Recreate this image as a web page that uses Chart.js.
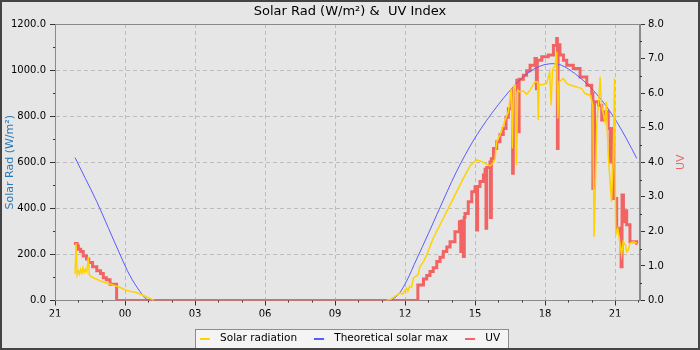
<!DOCTYPE html>
<html>
<head>
<meta charset="utf-8">
<script src="https://cdn.jsdelivr.net/npm/chart.js@4/dist/chart.umd.min.js"></script>
<style>
  html, body { margin: 0; padding: 0; background: #e6e6e6; }
</style>
</head>
<body>
<canvas id="solarChart" width="700" height="350"></canvas>
<script>
// x values are hours counted from 21:00 on the first evening
const xTickLabels = ['21', '00', '03', '06', '09', '12', '15', '18', '21'];
const radTickLabels = ['0.0', '200.0', '400.0', '600.0', '800.0', '1000.0', '1200.0'];
const uvTickLabels = ['0.0', '1.0', '2.0', '3.0', '4.0', '5.0', '6.0', '7.0', '8.0'];

const solarTimes = [0.86, 0.9, 0.95, 1.0, 1.05, 1.1, 1.15, 1.2, 1.25, 1.3, 1.36, 1.43, 1.47, 1.55, 1.7, 1.93, 2.15, 2.4, 2.65, 2.85, 3.0, 3.2, 3.45, 3.64, 3.8, 3.95, 4.1, 4.21, 4.25,
  9,
  14.2, 14.4, 14.6, 14.79, 14.9, 15.0, 15.07, 15.12, 15.2, 15.28, 15.36, 15.45, 15.55, 15.64, 15.8, 15.93, 16.21, 16.64, 17.07, 17.5, 17.79, 18.07, 18.25, 18.43, 18.64, 18.8, 18.86,
  18.93, 19.07, 19.21, 19.43, 19.55, 19.6, 19.65, 19.72, 19.78, 19.83, 19.93, 20.07, 20.21, 20.36, 20.43, 20.57, 20.68, 20.71, 20.75, 20.86, 21.07, 21.2, 21.26, 21.32, 21.43,
  21.5, 21.55, 21.6, 21.79, 21.93, 22.07, 22.36, 22.57, 22.71, 22.93, 23.05, 23.1, 23.15, 23.22, 23.31, 23.36, 23.42, 23.57, 23.63, 23.7, 23.78, 23.85, 23.92, 23.98, 24.03,
  24.12, 24.2, 24.28, 24.35, 24.45, 24.5, 24.57, 24.64, 24.79, 24.93];
const solarValues = [115, 248, 112, 128, 115, 135, 118, 142, 122, 136, 125, 190, 112, 104, 96, 86, 78, 70, 62, 54, 46, 40, 36, 28, 22, 14, 8, 2, 0,
  null,
  0, 6, 20, 32, 28, 45, 53, 40, 62, 58, 97, 105, 110, 147, 170, 198, 270, 357, 443, 530, 585, 610, 605, 595, 584, 600, 615,
  689, 718, 761, 819, 920, 660, 930, 935, 588, 913, 905, 910, 895, 913, 925, 949, 949, 783, 940, 935, 942, 992, 848, 1000, 1021,
  1079, 790, 949, 963, 942, 935, 927, 920, 898, 891, 848, 277, 458, 776, 877, 971, 848, 776, 862, 646, 530, 429, 602, 963, 285,
  313, 256, 198, 256, 240, 212, 220, 248, 256, 248];

const maxTimes = [0.86, 1.3, 1.79, 2.3, 2.79, 3.2, 3.64, 3.85, 4.0,
  9,
  14.25, 14.5, 14.75, 15.07, 15.5, 16.0, 16.36, 16.75, 17.0, 17.4, 17.79, 18.1, 18.5, 19.0, 19.5, 20.0, 20.5, 21.0, 21.4, 21.7, 22.0, 22.5, 22.93, 23.5, 24.07, 24.5, 24.93];
const maxValues = [620, 530, 429, 312, 199, 110, 39, 12, 0,
  null,
  0, 8, 30, 85, 180, 290, 372, 460, 516, 598, 670, 722, 782, 850, 912, 965, 1003, 1024, 1028, 1021, 1005, 967, 927, 860, 776, 700, 617];

const uvTimes = [0.81, 0.95, 1.0, 1.1, 1.21, 1.35, 1.45, 1.61, 1.79, 1.95, 2.07, 2.2, 2.36, 2.64,
  15.55, 15.79, 15.93, 16.07, 16.21, 16.36, 16.5, 16.64, 16.79, 16.93, 17.14, 17.33, 17.39, 17.42, 17.5, 17.54, 17.57, 17.71, 17.86, 18.0, 18.07, 18.11, 18.21, 18.36,
  18.43, 18.47, 18.5, 18.64, 18.66, 18.7, 18.79, 18.93, 19.07, 19.21, 19.33, 19.43, 19.57, 19.61, 19.64, 19.79, 19.84, 19.89, 20.07, 20.21, 20.36, 20.57, 20.63, 20.67,
  20.86, 21.14, 21.36, 21.5, 21.53, 21.56, 21.64, 21.79, 21.93, 22.21, 22.5, 22.79, 23.0, 23.05, 23.12, 23.29, 23.43, 23.57, 23.71, 23.79, 23.86, 23.93, 24.07, 24.21,
  24.26, 24.3, 24.36, 24.43, 24.5, 24.64, 24.79, 24.93, 24.96];
const uvValues = [1.65, 1.58, 1.48, 1.42, 1.29, 1.2, 1.1, 0.98, 0.86, 0.78, 0.66, 0.6, 0.47, 0,
  0.45, 0.62, 0.72, 0.84, 0.95, 1.13, 1.25, 1.42, 1.55, 1.7, 1.99, 2.28, 1.42, 2.3, 1.27, 2.4, 2.52, 2.86, 3.15, 3.29, 2.04, 3.3, 3.44, 3.63,
  3.8, 2.09, 3.85, 4.01, 2.4, 4.1, 4.4, 4.59, 4.8, 4.98, 5.3, 5.55, 6.04, 3.68, 6.1, 6.37, 4.88, 6.4, 6.52, 6.65, 6.81, 7.0, 6.13, 6.95,
  7.05, 7.1, 7.38, 7.58, 4.4, 7.4, 7.1, 6.95, 6.81, 6.71, 6.47, 6.23, 5.99, 3.24, 5.75, 5.65, 5.22, 5.46, 4.98, 4.01, 4.98, 2.95, 2.09, 1.9,
  0.98, 3.05, 2.28, 2.6, 2.19, 1.7, 1.7, 1.65, 1.65];

const FONT = "'DejaVu Sans', sans-serif";
const YELLOW = '#ffd200';
const BLUE = '#5a5aff';
const RED = '#f26464';
const GRID = '#bcbcbc';
const AXIS = '#8a8a8a';

function toPoints(times, values) {
  return times.map((t, i) => ({x: t, y: values[i]}));
}

// short line on the left of a 15px cell, used as the legend marker
function legendMark(color) {
  const c = document.createElement('canvas');
  c.width = 15;
  c.height = 2;
  const g = c.getContext('2d');
  g.fillStyle = color;
  g.fillRect(0, 0, 10, 2);
  return c;
}

const framePlugin = {
  id: 'frame',
  beforeDraw(chart) {
    const ctx = chart.ctx;
    ctx.save();
    ctx.fillStyle = '#e6e6e6';
    ctx.fillRect(0, 0, chart.width, chart.height);
    const boxes = chart.legend.legendHitBoxes;
    if (boxes && boxes.length) {
      const l = Math.round(Math.min(...boxes.map(b => b.left)) - 5);
      const r = Math.round(Math.max(...boxes.map(b => b.left + b.width)) + 8);
      const cy = Math.round(boxes[0].top + boxes[0].height / 2);
      ctx.fillStyle = '#f4f4f4';
      ctx.fillRect(l, cy - 10, r - l, 20);
      ctx.strokeStyle = '#8c8c8c';
      ctx.lineWidth = 1;
      ctx.strokeRect(l + 0.5, cy - 10 + 0.5, r - l, 20);
    }
    ctx.restore();
  },
  beforeDatasetsDraw(chart) {
    const {ctx, chartArea: a, scales} = chart;
    ctx.save();
    ctx.strokeStyle = AXIS;
    ctx.lineWidth = 1;
    ctx.strokeRect(Math.round(a.left) + 0.5, Math.round(a.top) + 0.5, Math.round(a.right - a.left) - 1, Math.round(a.bottom - a.top) - 1);
    // minor tick marks
    ctx.strokeStyle = '#333';
    ctx.beginPath();
    for (let h = 1; h <= 25; h++) {
      if (h % 3 === 0) continue;
      const px = Math.round(scales.x.getPixelForValue(h)) + 0.5;
      ctx.moveTo(px, a.bottom);
      ctx.lineTo(px, a.bottom + 2);
    }
    for (let v = 100; v < 1200; v += 200) {
      const py = Math.round(scales.yRad.getPixelForValue(v)) + 0.5;
      ctx.moveTo(a.left - 2, py);
      ctx.lineTo(a.left, py);
    }
    for (let v = 0.5; v < 8; v += 1) {
      const py = Math.round(scales.yUV.getPixelForValue(v)) + 0.5;
      ctx.moveTo(a.right, py);
      ctx.lineTo(a.right + 2, py);
    }
    ctx.stroke();
    ctx.restore();
  },
  afterDraw(chart) {
    const {ctx, chartArea: a} = chart;
    ctx.save();
    ctx.translate(681, (a.top + a.bottom) / 2);
    ctx.rotate(-Math.PI / 2);
    ctx.fillStyle = RED;
    ctx.font = '11px ' + FONT;
    ctx.textAlign = 'center';
    ctx.textBaseline = 'middle';
    ctx.fillText('UV', 0, 0);
    ctx.restore();
    ctx.save();
    ctx.strokeStyle = '#444';
    ctx.lineWidth = 2;
    ctx.strokeRect(1, 1, chart.width - 2, chart.height - 2);
    ctx.restore();
  }
};

new Chart(document.getElementById('solarChart'), {
  type: 'line',
  data: {
    datasets: [
      {
        label: 'Solar radiation',
        data: toPoints(solarTimes, solarValues),
        borderColor: YELLOW,
        backgroundColor: YELLOW,
        borderWidth: 1.5,
        pointRadius: 0,
        pointStyle: legendMark(YELLOW),
        yAxisID: 'yRad'
      },
      {
        label: 'Theoretical solar max',
        data: toPoints(maxTimes, maxValues),
        borderColor: BLUE,
        backgroundColor: BLUE,
        borderWidth: 1,
        pointRadius: 0,
        cubicInterpolationMode: 'monotone',
        pointStyle: legendMark(BLUE),
        yAxisID: 'yRad'
      },
      {
        label: 'UV',
        data: toPoints(uvTimes, uvValues),
        borderColor: RED,
        backgroundColor: RED,
        borderWidth: 3,
        pointRadius: 0,
        stepped: true,
        pointStyle: legendMark(RED),
        yAxisID: 'yUV'
      }
    ]
  },
  options: {
    responsive: false,
    animation: false,
    devicePixelRatio: 1,
    layout: {padding: {left: 2, right: 2, top: 2, bottom: -4}},
    plugins: {
      title: {
        display: true,
        text: 'Solar Rad (W/m²) &  UV Index',
        color: '#000',
        font: {family: FONT, size: 13, weight: 'normal'},
        padding: {top: 2, bottom: 4.4}
      },
      legend: {
        position: 'bottom',
        labels: {
          usePointStyle: true,
          pointStyleWidth: 15,
          padding: 17,
          color: '#000',
          font: {family: FONT, size: 10.5}
        }
      },
      tooltip: {enabled: false}
    },
    scales: {
      x: {
        type: 'linear',
        min: 0,
        max: 25.07,
        afterFit: s => { s.height = 16; },
        ticks: {
          stepSize: 3,
          includeBounds: false,
          autoSkip: false,
          maxRotation: 0,
          padding: 3,
          color: '#000',
          font: {family: FONT, size: 10},
          callback: v => xTickLabels[Math.round(v / 3)] ?? ''
        },
        grid: {color: GRID, tickColor: '#333', tickLength: 5},
        border: {color: AXIS, dash: [4, 3]}
      },
      yRad: {
        position: 'left',
        min: 0,
        max: 1200,
        afterFit: s => { s.width = 53; },
        title: {
          display: true,
          text: 'Solar Rad (W/m²)',
          color: '#2a7ab4',
          font: {family: FONT, size: 11},
          padding: {top: 2, bottom: 0}
        },
        ticks: {
          stepSize: 200,
          padding: 4,
          color: '#000',
          font: {family: FONT, size: 10},
          callback: (v, i) => radTickLabels[i]
        },
        grid: {color: GRID, tickColor: '#333', tickLength: 5},
        border: {color: AXIS, dash: [4, 3]}
      },
      yUV: {
        position: 'right',
        min: 0,
        max: 8,
        afterFit: s => { s.width = 58; },
        ticks: {
          stepSize: 1,
          padding: 3,
          color: '#000',
          font: {family: FONT, size: 10},
          callback: (v, i) => uvTickLabels[i]
        },
        grid: {drawOnChartArea: false, tickColor: '#333', tickLength: 5},
        border: {color: AXIS}
      }
    }
  },
  plugins: [framePlugin]
});
</script>
</body>
</html>
